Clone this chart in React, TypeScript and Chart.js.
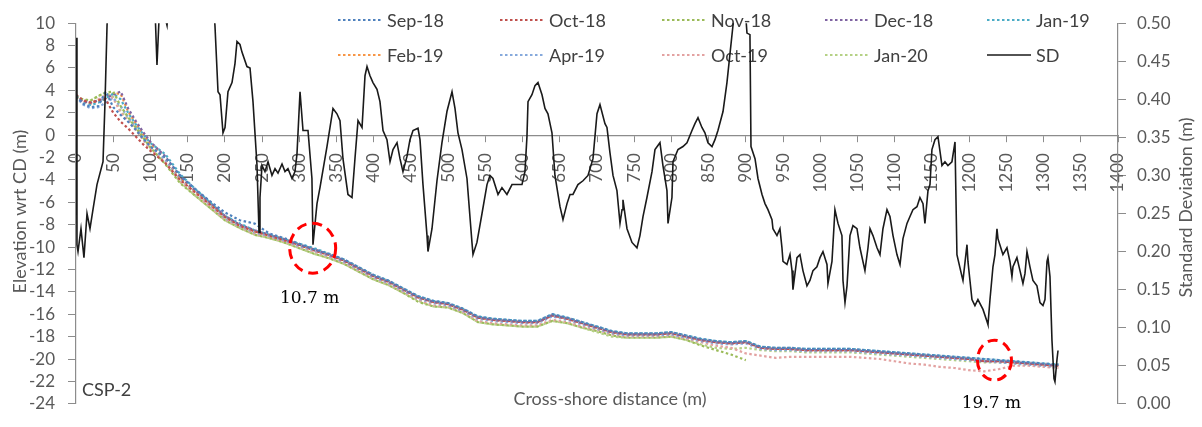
import React, { useEffect, useRef } from "react";
import { Chart, registerables } from "chart.js";

Chart.register(...registerables);

const SANS = "Lato, 'Open Sans', sans-serif";
const SERIF = "'DejaVu Serif', 'Liberation Serif', serif";

// Survey campaigns shown as dotted profiles
const surveyNames = ["Sep-18", "Oct-18", "Nov-18", "Dec-18", "Jan-19", "Feb-19", "Apr-19", "Oct-19", "Jan-20"];
const surveyColors = ["#4F81BD", "#C0504D", "#9BBB59", "#8064A2", "#4BACC6", "#F79646", "#86A9DC", "#E3A2A1", "#B5D185"];

// Cross-shore chainage of the surveyed profile points (m)
const profileDistance = [
  0, 10, 20, 30, 40, 50, 60, 70, 80, 90, 100,
  120, 140, 160, 180, 200, 220, 240, 260, 280, 300, 320, 340, 360, 380, 400, 420, 440, 460, 480, 500,
  520, 540, 560, 580, 600, 620, 640, 660, 680, 700, 720, 740, 760, 780, 800, 820, 840, 860, 880, 900,
  920, 940, 960, 980, 1000, 1020, 1040, 1060, 1080, 1100, 1120, 1140, 1160, 1180, 1200, 1220, 1240, 1260, 1280, 1300, 1320,
];

// Bed elevation wrt chart datum (m) for each survey
const sep18 = [
  3.5, 2.8, 2.5, 2.6, 3.9, 2.5, 1.8, 1.2, 0.5, -0.3, -1.0,
  -2.0, -3.6, -4.8, -5.9, -6.9, -7.6, -7.9, -8.8, -9.2, -9.7, -10.2, -10.6, -11.1, -11.8, -12.5, -13.0, -13.7, -14.4, -14.8, -15.0,
  -15.5, -16.2, -16.4, -16.5, -16.6, -16.6, -16.0, -16.3, -16.7, -17.1, -17.5, -17.7, -17.7, -17.7, -17.6, -17.9, -18.2, -18.4, -18.5, -18.4,
  -18.9, -19.0, -19.0, -19.1, -19.1, -19.1, -19.1, -19.2, -19.3, -19.4, -19.5, -19.6, -19.7, -19.8, -19.9, -20.0, -20.1, -20.2, -20.3, -20.4, -20.5,
];
const oct18 = [
  3.6, 3.1, 2.9, 3.1, 3.2, 2.0, 1.2, 0.6, -0.1, -0.8, -1.4,
  -2.5, -4.0, -5.1, -6.2, -7.3, -8.1, -8.6, -9.0, -9.4, -9.8, -10.3, -10.7, -11.2, -11.9, -12.6, -13.1, -13.8, -14.5, -14.9, -15.1,
  -15.6, -16.3, -16.5, -16.6, -16.7, -16.7, -16.1, -16.4, -16.8, -17.2, -17.6, -17.8, -17.8, -17.8, -17.7, -18.0, -18.3, -18.5, -18.6, -18.5,
  -19.0, -19.1, -19.1, -19.2, -19.2, -19.2, -19.2, -19.3, -19.4, -19.5, -19.6, -19.7, -19.8, -19.9, -20.0, -20.2, -20.2, -20.3, -20.4, -20.5, -20.6,
];
const nov18 = [
  3.4, 3.2, 3.1, 3.5, 3.8, 3.9, 2.6, 1.6, 0.7, -0.2, -1.1,
  -2.6, -4.3, -5.4, -6.5, -7.6, -8.3, -8.9, -9.2, -9.6, -10.1, -10.6, -11.0, -11.5, -12.2, -12.9, -13.4, -14.1, -14.9, -15.3, -15.4,
  -15.9, -16.7, -16.9, -17.0, -17.1, -17.1, -16.6, -16.8, -17.2, -17.5, -17.9, -18.1, -18.1, -18.1, -18.0, -18.3, -18.8, -19.2, -19.6, -20.1,
  null, null, null, null, null, null, null, null, null, null, null, null, null, null, null, null, null, null, null, null, null,
];
const dec18 = [
  3.4, 3.0, 2.9, 3.1, 3.3, 3.6, 3.9, 2.4, 1.3, 0.3, -0.6,
  -1.9, -3.7, -4.9, -6.0, -7.2, -8.0, -8.5, -8.9, -9.3, -9.8, -10.2, -10.7, -11.2, -11.9, -12.6, -13.1, -13.8, -14.5, -14.9, -15.1,
  -15.6, -16.3, -16.5, -16.6, -16.7, -16.7, -16.1, -16.4, -16.8, -17.2, -17.6, -17.8, -17.8, -17.8, -17.7, -18.0, -18.3, -18.5, -18.6, -18.5,
  -19.0, -19.1, -19.1, -19.2, -19.2, -19.2, -19.2, -19.3, -19.4, -19.5, -19.6, -19.7, -19.8, -19.9, -20.0, -20.2, -20.2, -20.3, -20.4, -20.5, -20.6,
];
const jan19 = [
  3.5, 3.0, 2.7, 2.9, 3.3, 3.7, 3.2, 2.0, 1.0, 0.1, -0.7,
  -1.7, -3.5, -4.8, -6.0, -7.2, -7.9, -8.5, -8.9, -9.3, -9.7, -10.1, -10.6, -11.1, -11.8, -12.5, -13.0, -13.7, -14.4, -14.8, -15.0,
  -15.5, -16.2, -16.4, -16.5, -16.6, -16.6, -16.0, -16.3, -16.7, -17.1, -17.5, -17.7, -17.7, -17.7, -17.6, -17.9, -18.2, -18.4, -18.5, -18.4,
  -18.9, -19.0, -19.0, -19.1, -19.1, -19.1, -19.1, -19.2, -19.3, -19.4, -19.5, -19.6, -19.7, -19.8, -19.9, -20.0, -20.1, -20.2, -20.3, -20.4, -20.5,
];
const feb19 = [
  3.5, 3.0, 2.8, 3.1, 3.3, 3.7, 3.7, 2.1, 1.1, 0.1, -0.8,
  -2.0, -3.8, -5.0, -6.1, -7.3, -8.0, -8.6, -8.9, -9.3, -9.8, -10.2, -10.7, -11.2, -11.9, -12.6, -13.1, -13.8, -14.5, -14.9, -15.1,
  -15.6, -16.3, -16.5, -16.6, -16.7, -16.7, -16.1, -16.4, -16.8, -17.2, -17.6, -17.8, -17.8, -17.8, -17.7, -18.0, -18.3, -18.5, -18.6, -18.5,
  -19.0, -19.1, -19.1, -19.2, -19.2, -19.2, -19.2, -19.3, -19.4, -19.5, -19.6, -19.7, -19.8, -19.9, -20.0, -20.2, -20.2, -20.3, -20.4, -20.5, -20.6,
];
const apr19 = [
  3.4, 2.7, 2.4, 2.5, 2.9, 3.3, 2.6, 1.6, 0.8, -0.1, -1.0,
  -2.2, -3.9, -5.0, -6.2, -7.4, -8.1, -8.7, -9.0, -9.4, -9.9, -10.3, -10.8, -11.3, -12.0, -12.7, -13.2, -13.9, -14.6, -15.0, -15.2,
  -15.7, -16.4, -16.6, -16.7, -16.8, -16.8, -16.2, -16.5, -16.9, -17.3, -17.7, -17.9, -17.9, -17.9, -17.8, -18.1, -18.4, -18.6, -18.7, -18.6,
  -19.1, -19.2, -19.2, -19.3, -19.3, -19.3, -19.3, -19.4, -19.5, -19.6, -19.7, -19.8, -19.9, -20.0, -20.1, -20.2, -20.3, -20.4, -20.5, -20.6, -20.7,
];
const oct19 = [
  3.6, 3.0, 2.9, 3.2, 3.6, 3.3, 2.0, 1.3, 0.5, -0.4, -1.2,
  -2.4, -4.1, -5.2, -6.4, -7.5, -8.2, -8.8, -9.1, -9.5, -10.0, -10.4, -10.9, -11.4, -12.1, -12.8, -13.3, -14.0, -14.7, -15.2, -15.3,
  -15.8, -16.6, -16.8, -16.9, -17.0, -17.0, -16.5, -16.7, -17.1, -17.4, -17.8, -18.0, -18.0, -18.0, -17.9, -18.2, -18.5, -18.8, -19.0, -19.5,
  -19.7, -19.9, -19.8, -19.8, -19.8, -19.8, -19.8, -19.9, -20.0, -20.2, -20.4, -20.5, -20.7, -20.8, -21.0, -21.1, -20.9, -20.6, -20.6, -20.7, -20.8,
];
const jan20 = [
  3.5, 3.1, 3.1, 3.5, 3.8, 3.4, 2.2, 1.4, 0.6, -0.3, -1.2,
  -2.5, -4.2, -5.4, -6.5, -7.6, -8.3, -8.9, -9.2, -9.6, -10.1, -10.6, -11.0, -11.5, -12.2, -12.9, -13.4, -14.1, -14.8, -15.3, -15.4,
  -15.9, -16.7, -16.9, -17.0, -17.1, -17.1, -16.6, -16.8, -17.2, -17.6, -18.0, -18.1, -18.1, -18.1, -18.0, -18.3, -18.7, -19.0, -19.1, -19.0,
  -19.2, -19.3, -19.3, -19.4, -19.4, -19.4, -19.4, -19.5, -19.6, -19.7, -19.8, -19.9, -20.0, -20.1, -20.2, -20.3, -20.3, -20.4, -20.5, -20.6, -20.7,
];
const surveyElevations = [sep18, oct18, nov18, dec18, jan19, feb19, apr19, oct19, jan20];

// Standard deviation of elevation between surveys (m), right axis
const sdDistance = [
  0, 1.3, 2.7, 6.7, 10.7, 14.8, 18.8, 22.8, 28.2, 36.3, 39.0, 41.7, 45.7, 72.5, 99.4, 106, 108.8, 112.9, 122.3, 126.3,
  153, 184, 186.7, 190.8, 193.5, 197.5, 200.2, 204.2, 209.6, 213.6, 216.3, 220.3, 223, 229.7, 233.8, 237.8, 243.2, 245.9, 247.2, 249.9,
  253.9, 258, 263.3, 267.4, 271.4, 276.8, 280.8, 284.8, 290.2, 294.2, 296.9, 301, 305, 311.7, 317, 318.4, 323.8, 327.8, 337.2, 345.3,
  350.6, 354.7, 358.7, 365.4, 370.8, 374.8, 378.9, 384.3, 388.3, 391, 395, 399, 404.4, 408.4, 412.5, 417.8, 421.9, 425.9, 431.3, 435.3,
  439.3, 444.7, 448.7, 452.8, 459.5, 462.2, 466.2, 471.6, 472.9, 478.3, 485, 491.7, 498.4, 505.2, 509.2, 513.2, 518.6, 525.3, 532, 533.4,
  538.7, 545.5, 552.2, 556.2, 560.2, 567, 572.3, 579, 585.8, 592.5, 599.2, 603.2, 605.9, 607.3, 612.6, 616.7, 620.7, 626.1, 630.1, 634.1,
  639.5, 643.5, 650.3, 654.3, 659.7, 663.7, 667.7, 674.4, 681.2, 687.9, 694.6, 700, 704, 710.7, 713.4, 717.4, 721.5, 726.8, 730.9, 733.6,
  734.9, 740.3, 747, 753.7, 757.7, 761.8, 767.1, 773.9, 777.9, 784.6, 788.6, 794, 795.4, 800.7, 802.1, 808.8, 815.5, 820.9, 827.6, 831.6,
  835.7, 841, 845, 849.1, 854.5, 858.5, 862.5, 869.3, 874.6, 878.7, 882.7, 889.4, 897.5, 901.5, 905.5, 906.9, 912.3, 916.3, 921.7, 925.7,
  929.7, 935.1, 936.4, 941.8, 945.8, 948.5, 949.9, 955.2, 959.3, 962, 963.3, 968.7, 972.7, 976.7, 982.1, 986.1, 990.2, 995.5, 999.6, 1003.6,
  1009, 1010.3, 1015.7, 1019.7, 1023.8, 1029.1, 1030.5, 1033.2, 1035.9, 1039.9, 1043.9, 1049.3, 1053.3, 1060, 1064.1, 1066.8, 1070.8, 1076.2, 1080.2, 1084.2,
  1089.6, 1093.6, 1097.7, 1103, 1107.1, 1111.1, 1116.5, 1120.5, 1124.5, 1129.9, 1133.9, 1138, 1140.6, 1144.7, 1147.4, 1150, 1154.1, 1158.1, 1163.5, 1167.5,
  1171.5, 1176.9, 1181, 1183.6, 1190.4, 1191.7, 1197.1, 1198.4, 1201.1, 1203.8, 1207.8, 1211.8, 1218.6, 1224, 1225.3, 1228, 1232, 1234.7, 1237.4, 1238.7,
  1244.1, 1245.4, 1250.8, 1254.8, 1257.5, 1258.9, 1264.2, 1268.3, 1272.3, 1275, 1277.7, 1281.7, 1285.7, 1291.1, 1295.2, 1299.2, 1301.9, 1304.6, 1305.9, 1308.6,
  1311.3, 1314, 1315.3, 1318, 1319.4,
];
const sdValue = [
  0.481, 0.209, 0.200, 0.230, 0.192, 0.250, 0.230, 0.255, 0.288, 0.318, 0.397, 0.497, 0.573, 0.598, 0.548, 0.523, 0.445, 0.535, 0.497, 0.548,
  0.598, 0.535, 0.497, 0.410, 0.406, 0.356, 0.363, 0.410, 0.422, 0.447, 0.476, 0.472, 0.462, 0.443, 0.441, 0.397, 0.313, 0.225, 0.271, 0.313,
  0.305, 0.318, 0.300, 0.309, 0.303, 0.315, 0.305, 0.309, 0.296, 0.305, 0.328, 0.410, 0.359, 0.359, 0.296, 0.209, 0.263, 0.284, 0.338, 0.388,
  0.381, 0.372, 0.322, 0.275, 0.271, 0.322, 0.372, 0.363, 0.431, 0.443, 0.431, 0.422, 0.413, 0.397, 0.359, 0.347, 0.318, 0.334, 0.343, 0.322,
  0.305, 0.325, 0.347, 0.359, 0.362, 0.347, 0.288, 0.221, 0.200, 0.230, 0.293, 0.343, 0.384, 0.410, 0.388, 0.356, 0.334, 0.296, 0.212, 0.196,
  0.212, 0.250, 0.288, 0.300, 0.296, 0.275, 0.284, 0.275, 0.288, 0.288, 0.288, 0.305, 0.351, 0.397, 0.406, 0.418, 0.422, 0.406, 0.388, 0.381,
  0.356, 0.300, 0.259, 0.242, 0.263, 0.275, 0.275, 0.288, 0.293, 0.300, 0.322, 0.381, 0.393, 0.368, 0.363, 0.330, 0.300, 0.280, 0.237, 0.255,
  0.268, 0.230, 0.212, 0.205, 0.221, 0.246, 0.271, 0.305, 0.334, 0.343, 0.313, 0.280, 0.237, 0.271, 0.318, 0.334, 0.338, 0.343, 0.359, 0.368,
  0.376, 0.363, 0.356, 0.343, 0.338, 0.347, 0.359, 0.384, 0.422, 0.460, 0.497, 0.548, 0.542, 0.487, 0.485, 0.338, 0.322, 0.296, 0.275, 0.263,
  0.255, 0.242, 0.230, 0.221, 0.230, 0.205, 0.187, 0.183, 0.196, 0.175, 0.150, 0.192, 0.196, 0.175, 0.155, 0.162, 0.175, 0.180, 0.192, 0.200,
  0.183, 0.158, 0.187, 0.255, 0.237, 0.221, 0.162, 0.133, 0.155, 0.221, 0.234, 0.230, 0.205, 0.175, 0.205, 0.230, 0.221, 0.205, 0.196, 0.230,
  0.255, 0.246, 0.221, 0.196, 0.183, 0.217, 0.237, 0.246, 0.255, 0.259, 0.271, 0.263, 0.237, 0.280, 0.288, 0.334, 0.347, 0.351, 0.313, 0.318,
  0.313, 0.318, 0.344, 0.196, 0.167, 0.162, 0.209, 0.187, 0.162, 0.137, 0.129, 0.137, 0.124, 0.108, 0.104, 0.137, 0.180, 0.196, 0.230, 0.217,
  0.200, 0.196, 0.205, 0.187, 0.167, 0.180, 0.192, 0.175, 0.158, 0.171, 0.200, 0.180, 0.162, 0.155, 0.133, 0.129, 0.137, 0.187, 0.192, 0.167,
  0.083, 0.033, 0.029, 0.058, 0.070,
];

// Highlighted spots along the profile
const highlightDistance = [318, 1234];
const highlightElevation = [-10.1, -20.1];
const highlightText = ["10.7 m", "19.7 m"];

const overlayPlugin = {
  id: "profileOverlay",
  beforeDatasetsDraw(chart: any) {
    const ctx = chart.ctx as CanvasRenderingContext2D;
    const { top, bottom } = chart.chartArea;
    ctx.save();

    // legend: two rows of five entries
    const colX = [338, 500, 662, 825, 987];
    const rowY = [20, 55];
    const entries = chart.data.datasets.slice(1).concat(chart.data.datasets.slice(0, 1));
    ctx.font = `18px ${SANS}`;
    ctx.textBaseline = "middle";
    ctx.textAlign = "left";
    entries.forEach((ds: any, i: number) => {
      const x = colX[i % 5];
      const y = rowY[Math.floor(i / 5)];
      ctx.save();
      ctx.strokeStyle = ds.borderColor;
      ctx.lineWidth = ds.borderWidth;
      ctx.setLineDash(ds.borderDash || []);
      ctx.beginPath();
      ctx.moveTo(x, y);
      ctx.lineTo(x + 44, y);
      ctx.stroke();
      ctx.restore();
      ctx.fillStyle = "#404040";
      ctx.fillText(ds.label, x + 49, y + 1);
    });

    // axis titles
    ctx.fillStyle = "#595959";
    ctx.font = `18px ${SANS}`;
    ctx.textAlign = "center";
    ctx.save();
    ctx.translate(20, (top + bottom) / 2 - 2);
    ctx.rotate(-Math.PI / 2);
    ctx.fillText("Elevation wrt CD (m)", 0, 0);
    ctx.restore();
    ctx.save();
    ctx.translate(1186, (top + bottom) / 2 - 6);
    ctx.rotate(-Math.PI / 2);
    ctx.fillText("Standard Deviation (m)", 0, 0);
    ctx.restore();
    ctx.fillText("Cross-shore distance (m)", 610, 399);

    ctx.textAlign = "left";
    ctx.fillStyle = "#404040";
    ctx.fillText("CSP-2", 82, 390);
    ctx.restore();
  },
  afterDatasetsDraw(chart: any) {
    const ctx = chart.ctx as CanvasRenderingContext2D;
    const xs = chart.scales.x;
    const ys = chart.scales.y;
    const radii = [[23, 25], [17, 20]];
    const labelDy = [50, 43];
    ctx.save();
    highlightDistance.forEach((d, i) => {
      const cx = xs.getPixelForValue(d);
      const cy = ys.getPixelForValue(highlightElevation[i]);
      ctx.strokeStyle = "#FF0000";
      ctx.lineWidth = 3;
      ctx.setLineDash([10, 6]);
      ctx.beginPath();
      ctx.ellipse(cx, cy, radii[i][0], radii[i][1], 0, 0, Math.PI * 2);
      ctx.stroke();
      ctx.setLineDash([]);
      ctx.fillStyle = "#000";
      ctx.font = `17px ${SERIF}`;
      ctx.textAlign = "center";
      ctx.textBaseline = "middle";
      ctx.fillText(highlightText[i], cx - 3, cy + labelDy[i]);
    });
    ctx.restore();
  },
};

export default function App() {
  const canvasRef = useRef<HTMLCanvasElement>(null);

  useEffect(() => {
    const canvas = canvasRef.current;
    if (!canvas) return;

    const profileSets = surveyNames.map((name, k) => ({
      label: name,
      data: profileDistance.map((x, i) => ({ x, y: surveyElevations[k][i] })),
      borderColor: surveyColors[k],
      borderWidth: 2.2,
      borderDash: [2.5, 2.5],
      pointRadius: 0,
      fill: false,
      spanGaps: false,
      tension: 0,
      yAxisID: "y",
    }));

    const sdSet = {
      label: "SD",
      data: sdDistance.map((x, i) => ({ x, y: sdValue[i] })),
      borderColor: "#1A1A1A",
      borderWidth: 1.6,
      pointRadius: 0,
      fill: false,
      tension: 0,
      yAxisID: "y2",
    };

    const tickFont = { family: SANS, size: 17 };
    const axisGrey = "#8C8C8C";

    const chart = new Chart(canvas, {
      type: "line",
      data: { datasets: [sdSet, ...profileSets] as any },
      options: {
        animation: false,
        responsive: false,
        layout: { padding: { top: 18, bottom: 11, left: 0, right: 0 } },
        plugins: { legend: { display: false }, tooltip: { enabled: false } },
        scales: {
          x: {
            type: "linear",
            min: 0,
            max: 1400,
            position: { y: 0 } as any,
            ticks: {
              stepSize: 50,
              autoSkip: false,
              minRotation: 90,
              maxRotation: 90,
              padding: 12,
              color: "#595959",
              font: tickFont,
              callback: (v: any) => String(v),
            },
            grid: { drawOnChartArea: false, tickLength: 6, color: axisGrey },
            border: { color: axisGrey, width: 1.2 },
          },
          y: {
            type: "linear",
            position: "left",
            min: -24,
            max: 10,
            ticks: { stepSize: 2, padding: 13, color: "#595959", font: tickFont },
            grid: { drawOnChartArea: false, tickLength: 8, color: axisGrey },
            border: { color: axisGrey, width: 1.2 },
            afterFit: (s: any) => {
              s.width = 76;
            },
          },
          y2: {
            type: "linear",
            position: "right",
            min: 0,
            max: 0.5,
            ticks: {
              stepSize: 0.05,
              padding: 11,
              color: "#595959",
              font: tickFont,
              callback: (v: any) => Number(v).toFixed(2),
            },
            grid: { drawOnChartArea: false, tickLength: 8, color: axisGrey },
            border: { color: axisGrey, width: 1.2 },
            afterFit: (s: any) => {
              s.width = 84;
            },
          },
        },
      },
      plugins: [overlayPlugin],
    });

    return () => chart.destroy();
  }, []);

  return (
    <div style={{ position: "absolute", left: 0, top: 0, width: 1202, height: 427, background: "#fff" }}>
      <canvas ref={canvasRef} width={1202} height={427} style={{ display: "block" }} />
    </div>
  );
}
